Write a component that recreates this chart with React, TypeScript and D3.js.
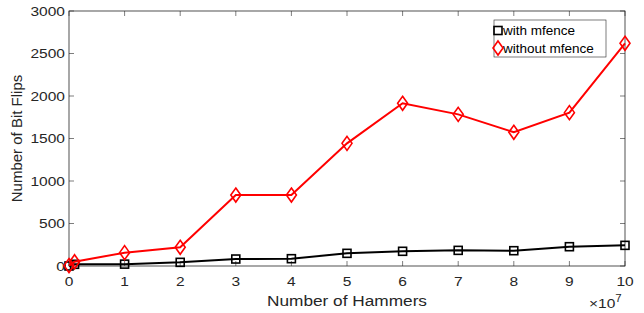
import * as d3 from "d3";

const hammers = [0, 0.1, 1, 2, 3, 4, 5, 6, 7, 8, 9, 10];
const withMfence = [0, 20, 22, 43, 82, 86, 149, 173, 184, 180, 227, 243];
const withoutMfence = [5, 50, 157, 220, 835, 835, 1443, 1914, 1784, 1573, 1804, 2620];
const xTicks = [0, 1, 2, 3, 4, 5, 6, 7, 8, 9, 10];
const yTicks = [0, 500, 1000, 1500, 2000, 2500, 3000];

const W = 644, H = 313;
const left = 69, right = 625, top = 11, bottom = 266;
const axisColor = "#262626";
const font = "'Liberation Sans', Arial, sans-serif";
const sx = 1.15; // the reference text is a bit wider than it is tall

const App = () => {
  const x = d3.scaleLinear().domain([0, 10]).range([left, right]);
  const y = d3.scaleLinear().domain([0, 3000]).range([bottom, top]);

  const line = d3.line<number>()
    .x((d, i) => x(hammers[i]))
    .y(d => y(d));

  const square = (cx: number, cy: number, key: string) =>
    <rect key={key} x={cx - 4} y={cy - 4} width={8} height={8} fill="none" stroke="#000" strokeWidth={1.6} />;
  const diamond = (cx: number, cy: number, key: string) =>
    <path key={key} d={`M${cx},${cy - 7}L${cx + 5},${cy}L${cx},${cy + 7}L${cx - 5},${cy}Z`} fill="none" stroke="#ff0000" strokeWidth={1.6} />;

  const label = (tx: number, ty: number, txt: any, anchor: string, size: number, key?: string, k = sx, fill = axisColor) =>
    <text key={key} transform={`translate(${tx},${ty}) scale(${k},1)`} textAnchor={anchor} fontSize={size} fill={fill}>{txt}</text>;

  return (
    <svg width={W} height={H} style={{ position: "absolute", left: 0, top: 0, background: "#fff" }} fontFamily={font}>
      {/* ticks */}
      {xTicks.map(t => (
        <g key={"xt" + t}>
          <line x1={x(t)} x2={x(t)} y1={bottom} y2={bottom - 5} stroke={axisColor} strokeWidth={0.6} />
          <line x1={x(t)} x2={x(t)} y1={top} y2={top + 5} stroke={axisColor} strokeWidth={0.6} />
          {label(x(t), 286, t, "middle", 13.5)}
        </g>
      ))}
      {yTicks.map(t => (
        <g key={"yt" + t}>
          <line x1={left} x2={left + 5} y1={y(t)} y2={y(t)} stroke={axisColor} strokeWidth={0.6} />
          <line x1={right} x2={right - 5} y1={y(t)} y2={y(t)} stroke={axisColor} strokeWidth={0.6} />
          {label(left - 4, y(t) + 4.8, t, "end", 13.5)}
        </g>
      ))}
      <rect x={left} y={top} width={right - left} height={bottom - top} fill="none" stroke={axisColor} strokeWidth={0.8} />

      {/* series */}
      <path d={line(withMfence) || ""} fill="none" stroke="#000" strokeWidth={2} />
      {withMfence.map((v, i) => square(x(hammers[i]), y(v), "s" + i))}
      <path d={line(withoutMfence) || ""} fill="none" stroke="#ff0000" strokeWidth={2} />
      {withoutMfence.map((v, i) => diamond(x(hammers[i]), y(v), "d" + i))}

      {/* labels */}
      {label((left + right) / 2, 306, "Number of Hammers", "middle", 15)}
      <text transform={`translate(22,${(top + bottom) / 2}) rotate(-90)`} textAnchor="middle" fontSize={15} fill={axisColor}>Number of Bit Flips</text>
      <text transform={`translate(589,308) scale(${sx},1)`} fontSize={13.5} fill={axisColor}>×10<tspan dy={-6} fontSize={10}>7</tspan></text>

      {/* legend */}
      <rect x={494} y={20} width={112} height={37} fill="#fff" stroke={axisColor} strokeWidth={0.6} />
      {square(498, 30.5, "ls")}
      {label(503, 35, "with mfence", "start", 13, undefined, 1.04, "#000")}
      {diamond(498, 48, "ld")}
      {label(503, 52.5, "without mfence", "start", 13, undefined, 1.04, "#000")}
    </svg>
  );
};

export default App;
